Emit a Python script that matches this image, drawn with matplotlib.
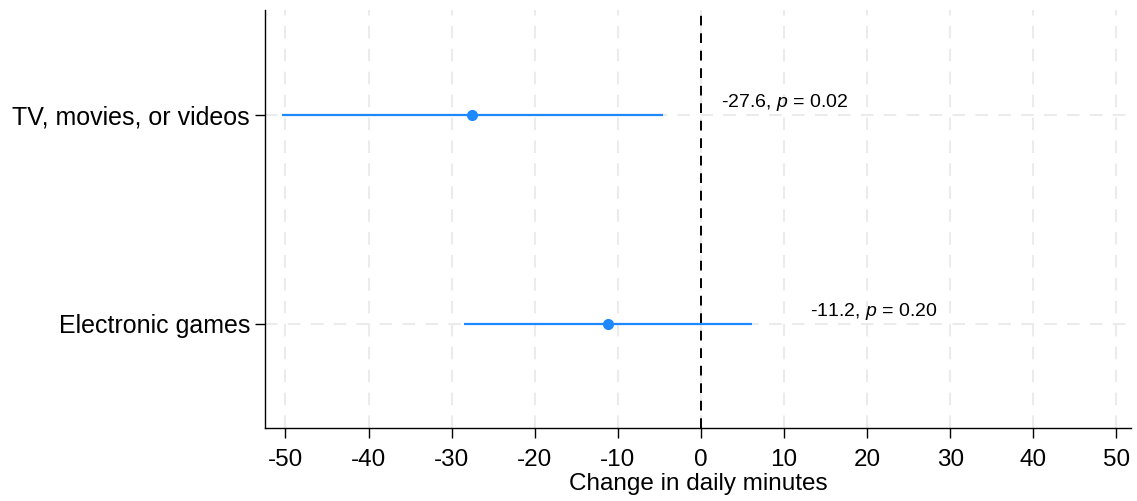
import matplotlib
matplotlib.use("Agg")
import matplotlib.pyplot as plt

categories = ["Electronic games", "TV, movies, or videos"]
estimates = [-11.2, -27.6]
ci_low = [-28.5, -50.45]
ci_high = [6.1, -4.6]
p_values = ["0.20", "0.02"]
xticks = [-50, -40, -30, -20, -10, 0, 10, 20, 30, 40, 50]

plt.rcParams['font.family'] = ['Liberation Sans', 'DejaVu Sans']
plt.rcParams['mathtext.fontset'] = 'custom'
plt.rcParams['mathtext.it'] = 'Liberation Sans:italic'
plt.rcParams['mathtext.rm'] = 'Liberation Sans'

fig = plt.figure(figsize=(11.37, 5.01), dpi=100)
ax = fig.add_axes([0.2335, 0.1457, 0.7615, 0.834])

ypos = list(range(len(categories)))
color = "#1E88FF"
for y, est, lo, hi, p in zip(ypos, estimates, ci_low, ci_high, p_values):
    ax.plot([lo, hi], [y, y], color=color, lw=1.6, solid_capstyle='butt', zorder=3)
    ax.plot([est], [y], 'o', color=color, ms=7, zorder=4)
    ax.text(hi + 7, y + 0.058, f"{est:.1f}, $p$ = {p}", fontsize=14,
            ha='left', va='center', zorder=5)

ax.axvline(0, color='black', lw=1.4, ls=(0, (5, 4)), zorder=2)

ax.set_xlim(-52.4, 51.8)
ax.set_ylim(-0.5, 1.5)
ax.set_xticks(xticks)
ax.set_xticklabels([str(t) for t in xticks])
ax.set_yticks(ypos)
ax.set_yticklabels(categories)
ax.tick_params(axis='x', labelsize=17.5, length=7.2, width=1, direction='out', pad=8)
ax.tick_params(axis='y', labelsize=18, length=7.2, width=1, direction='out', pad=4)
ax.set_xlabel("Change in daily minutes", fontsize=17.5, labelpad=1)

ax.grid(True, color='#EBEBEB', lw=1.5, ls=(0, (6, 5)), zorder=0)
ax.set_axisbelow(True)
for s in ['top', 'right']:
    ax.spines[s].set_visible(False)
for s in ['left', 'bottom']:
    ax.spines[s].set_linewidth(1.0)

fig.savefig("out.png", dpi=100)
